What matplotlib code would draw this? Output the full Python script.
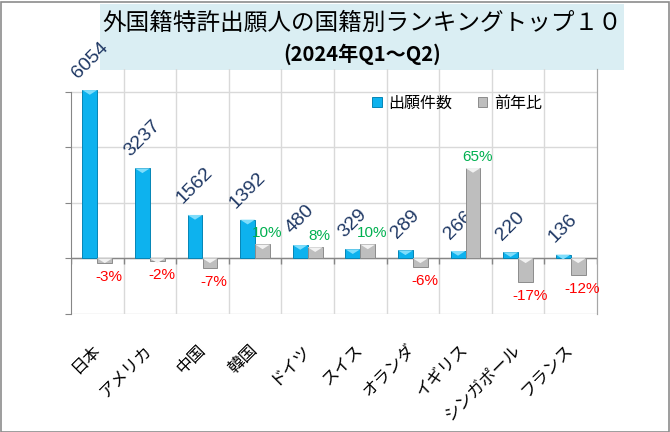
import matplotlib
matplotlib.use("Agg")
import matplotlib.pyplot as plt
from matplotlib.patches import Rectangle, Polygon, Patch
import numpy as np

categories = ["日本", "アメリカ", "中国", "韓国", "ドイツ", "スイス", "オランダ", "イギリス", "シンガポール", "フランス"]
applications = [6054, 3237, 1562, 1392, 480, 329, 289, 266, 220, 136]
yoy = [-0.03, -0.02, -0.07, 0.10, 0.08, 0.10, -0.06, 0.65, -0.17, -0.12]
series_names = ["出願件数", "前年比"]
title_line1 = "外国籍特許出願人の国籍別ランキングトップ１０"
title_line2 = "(2024年Q1〜Q2)"

JP = ["Noto Sans CJK JP", "DejaVu Sans"]
LAT = ["Liberation Sans", "DejaVu Sans"]

W, H = 670, 432
fig = plt.figure(figsize=(W / 100, H / 100), dpi=100)
fig.patch.set_facecolor("white")

L, R, T, B = 71, 597, 69.3, 314
ax = fig.add_axes([L / W, 1 - B / H, (R - L) / W, (B - T) / H])
ax.set_zorder(2)
ax.patch.set_visible(False)
ax2 = ax.twinx()

x = np.arange(len(categories))
w = 0.285
blue, blue_edge, blue_cap = "#0DB2EE", "#0585B5", "#7FDDFB"
gray, gray_edge, gray_cap = "#BEBEBE", "#8C8C8C", "#F2F2F2"

ax.set_xlim(-0.5, len(categories) - 0.5)
ax.set_ylim(-2000, 6800)
ax2.set_ylim(-0.4, 1.36)

# grid
ax.set_yticks([-2000, 0, 2000, 4000, 6000])
ax.set_yticklabels([])
ax.yaxis.grid(True, color="#D9D9D9", linewidth=1)
ax.set_xticks(np.arange(0.5, len(categories) - 0.5), minor=True)
ax.xaxis.grid(True, which="minor", color="#D9D9D9", linewidth=1)
ax.set_axisbelow(True)
ax.tick_params(axis="y", length=4, color="#868686", direction="out")
ax.tick_params(axis="x", which="minor", length=0)
for s in ["top", "bottom"]:
    ax.spines[s].set_visible(False)
ax.spines["left"].set_color("#868686")
ax.spines["left"].set_bounds(-2000, 6000)
ax.spines["right"].set_color("#A6A6A6")
for s in ["top", "bottom", "left"]:
    ax2.spines[s].set_visible(False)
ax2.spines["right"].set_color("#A6A6A6")
ax2.set_yticks([])

# zero line with tick marks at category boundaries
ax.axhline(0, color="#868686", linewidth=1, zorder=2)
ax.vlines(np.arange(-0.5, len(categories)), -200, 0, color="#868686", linewidth=1, zorder=2)

# category labels
ax.set_xticks(x)
ax.set_xticklabels(categories, rotation=45, ha="right", va="center",
                   rotation_mode="anchor", fontfamily=JP, fontsize=12, color="black")
ax.tick_params(axis="x", which="major", length=0, pad=24)

# blue bars
ax.bar(x - w / 2, applications, width=w, color=blue, edgecolor=blue_edge, linewidth=0.7, zorder=3)
cap1 = 170
for xi, v in zip(x - w / 2, applications):
    ax.add_patch(Polygon([(xi - w / 2, v), (xi + w / 2, v), (xi, v - cap1)],
                         closed=True, facecolor=blue_cap, edgecolor="none", zorder=4))
    ax.annotate(f"{v}", (xi, v), xytext=(0, 6), textcoords="offset points",
                rotation=45, ha="center", va="bottom", fontsize=14,
                color="#1F3864", fontfamily=LAT, zorder=6, annotation_clip=False)

# gray bars
ax2.bar(x + w / 2, yoy, width=w, color=gray, edgecolor=gray_edge, linewidth=0.7, zorder=3)
cap2 = 0.034
for xi, v in zip(x + w / 2, yoy):
    top = max(v, 0)
    ax2.add_patch(Polygon([(xi - w / 2, top), (xi + w / 2, top), (xi, top - cap2)],
                          closed=True, facecolor=gray_cap, edgecolor="none", zorder=4))
    if v >= 0:
        ax2.annotate(f"{round(v * 100)}%", (xi, v), xytext=(3, 3), textcoords="offset points",
                     ha="center", va="bottom", fontsize=11, color="#00B050", fontfamily=LAT)
    else:
        ax2.annotate(f"{round(v * 100)}%", (xi, v), xytext=(3, -5), textcoords="offset points",
                     ha="center", va="top", fontsize=11, color="#FF0000", fontfamily=LAT)

# legend
handles = [Patch(facecolor=blue, edgecolor=blue_edge, linewidth=0.7),
           Patch(facecolor=gray, edgecolor=gray_edge, linewidth=0.7)]
leg = fig.legend(handles, series_names, loc="center left", bbox_to_anchor=(358 / W, 1 - 103 / H),
                 ncol=2, frameon=False, handlelength=0.6, handleheight=0.6, handletextpad=0.4,
                 columnspacing=1.6, prop={"family": JP, "size": 11.5})
leg.set_zorder(5)

# title box
fig.patches.append(Rectangle((100 / W, 1 - 70 / H), 524 / W, 66 / H, transform=fig.transFigure,
                             facecolor="#DAEEF3", edgecolor="none", zorder=1))
fig.text(362 / W, 1 - 23 / H, title_line1, ha="center", va="center", fontsize=17,
         fontfamily=JP, color="black", zorder=1.5)
fig.text(362 / W, 1 - 54 / H, title_line2, ha="center", va="center", fontsize=14.5,
         fontfamily=JP, fontweight="bold", color="black", zorder=1.5)

# figure border
fig.patches.append(Rectangle((0.5 / W, 0.5 / H), (W - 2) / W, (H - 2) / H, transform=fig.transFigure,
                             facecolor="none", edgecolor="#8C8C8C", linewidth=1.2, zorder=3))

fig.savefig("out.png", dpi=100)
